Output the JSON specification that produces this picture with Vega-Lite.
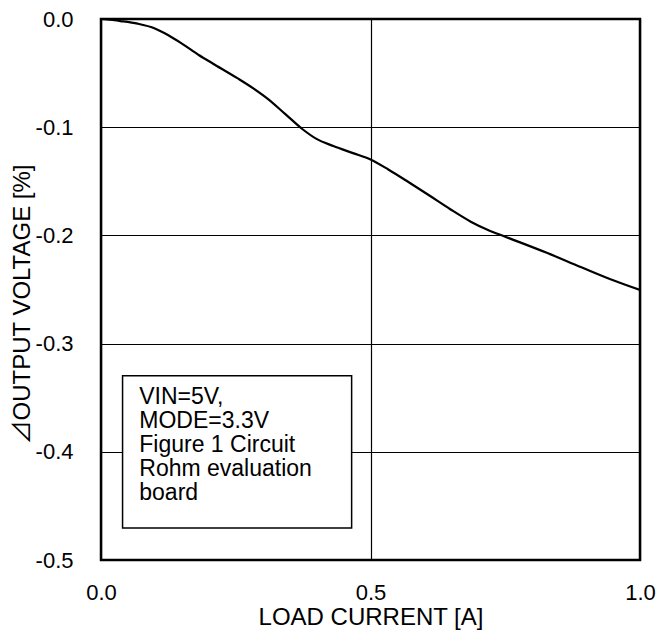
{
  "$schema": "https://vega.github.io/schema/vega-lite/v6.json",
  "autosize": "none",
  "width": 539,
  "height": 541,
  "padding": {"left": 101, "top": 19, "right": 17, "bottom": 75},
  "background": "white",
  "config": {
    "font": "Liberation Sans",
    "view": {"stroke": "black", "strokeWidth": 2.5},
    "axis": {
      "labelFont": "Liberation Sans",
      "titleFont": "Liberation Sans, Noto Sans CJK JP",
      "labelFontSize": 22,
      "titleFontSize": 24,
      "labelColor": "black",
      "titleColor": "black",
      "titleFontWeight": "normal",
      "ticks": false,
      "domain": false,
      "gridColor": "black",
      "gridOpacity": 1,
      "gridWidth": 1.2
    }
  },
  "datasets": {
    "curve": [
      {"current": 0.0, "dv": 0.0},
      {"current": 0.036, "dv": -0.0019},
      {"current": 0.068, "dv": -0.0043},
      {"current": 0.1, "dv": -0.0087},
      {"current": 0.125, "dv": -0.015},
      {"current": 0.15, "dv": -0.0227},
      {"current": 0.182, "dv": -0.0335},
      {"current": 0.208, "dv": -0.0413},
      {"current": 0.253, "dv": -0.0547},
      {"current": 0.284, "dv": -0.0646},
      {"current": 0.31, "dv": -0.074},
      {"current": 0.342, "dv": -0.0879},
      {"current": 0.374, "dv": -0.1019},
      {"current": 0.399, "dv": -0.1106},
      {"current": 0.431, "dv": -0.1174},
      {"current": 0.469, "dv": -0.1242},
      {"current": 0.5, "dv": -0.1298},
      {"current": 0.533, "dv": -0.1391},
      {"current": 0.571, "dv": -0.1509},
      {"current": 0.61, "dv": -0.1634},
      {"current": 0.648, "dv": -0.1758},
      {"current": 0.686, "dv": -0.1873},
      {"current": 0.718, "dv": -0.195},
      {"current": 0.75, "dv": -0.2012},
      {"current": 0.827, "dv": -0.2161},
      {"current": 0.89, "dv": -0.2292},
      {"current": 0.954, "dv": -0.2422},
      {"current": 1.0, "dv": -0.2505}
    ],
    "box": [
      {"x1": 0.04, "x2": 0.465, "y1": -0.3296, "y2": -0.4704}
    ],
    "note": [
      {"x": 0.071, "y": -0.3493, "label": "VIN=5V,\nMODE=3.3V\nFigure 1 Circuit\nRohm evaluation\nboard"}
    ]
  },
  "layer": [
    {
      "data": {"name": "curve"},
      "mark": {"type": "line", "color": "black", "strokeWidth": 2.2, "interpolate": "monotone", "clip": true},
      "encoding": {
        "x": {
          "field": "current", "type": "quantitative",
          "scale": {"domain": [0, 1], "nice": false, "zero": false},
          "axis": {
            "values": [0, 0.5, 1],
            "labelExpr": "format(datum.value, '.1f')",
            "title": "LOAD CURRENT [A]",
            "labelPadding": 22,
            "titlePadding": 2,
            "labelFlush": false
          }
        },
        "y": {
          "field": "dv", "type": "quantitative",
          "scale": {"domain": [-0.5, 0], "nice": false, "zero": false},
          "axis": {
            "values": [-0.5, -0.4, -0.3, -0.2, -0.1, 0],
            "labelExpr": "datum.value < 0 ? '-' + format(-datum.value, '.1f') : format(datum.value, '.1f')",
            "labelPadding": 28,
            "labelFlush": false,
            "title": "⊿OUTPUT VOLTAGE [%]",
            "titleAngle": -90,
            "titleX": -79,
            "titleY": 285,
            "titleAlign": "center",
            "titleBaseline": "middle"
          }
        }
      }
    },
    {
      "data": {"name": "box"},
      "mark": {"type": "rect", "fill": "white", "stroke": "black", "strokeWidth": 1.5},
      "encoding": {
        "x": {"field": "x1", "type": "quantitative"},
        "x2": {"field": "x2"},
        "y": {"field": "y1", "type": "quantitative"},
        "y2": {"field": "y2"}
      }
    },
    {
      "data": {"name": "note"},
      "mark": {"type": "text", "align": "left", "baseline": "middle", "fontSize": 23, "lineHeight": 24, "lineBreak": "\n", "font": "Liberation Sans", "color": "black"},
      "encoding": {
        "x": {"field": "x", "type": "quantitative"},
        "y": {"field": "y", "type": "quantitative"},
        "text": {"field": "label"}
      }
    }
  ]
}
